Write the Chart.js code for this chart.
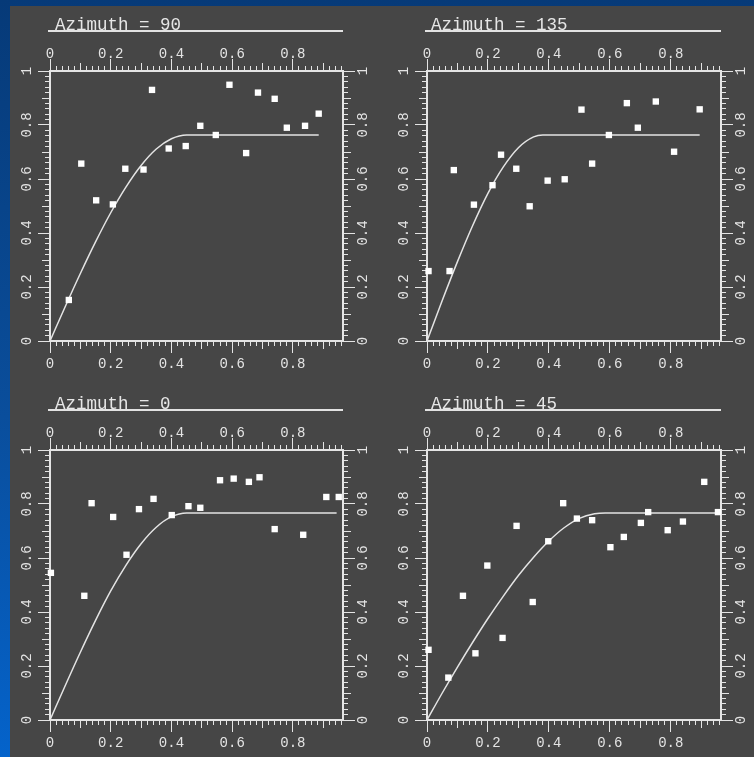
<!DOCTYPE html>
<html>
<head>
<meta charset="utf-8">
<script src="https://cdn.jsdelivr.net/npm/chart.js@4.4.1/dist/chart.umd.min.js"></script>
<style>
  html, body { margin: 0; padding: 0; }
  body {
    width: 754px; height: 757px; overflow: hidden; position: relative;
    background: linear-gradient(180deg, #063a78 0%, #0a4e9c 55%, #0463cb 100%);
  }
  #sheet { position: absolute; left: 10px; top: 6px; right: 0; bottom: 0; background: #464646; }
  canvas { position: absolute; }
  .title {
    position: absolute; box-sizing: border-box; height: 14px;
    font-family: "Liberation Mono", "DejaVu Sans Mono", monospace; font-size: 17.5px;
    line-height: 14px; color: #e6e6e6; white-space: pre;
    border-bottom: 2px solid #e2e2e2; z-index: 2;
  }
</style>
</head>
<body>
<div id="sheet"></div>
<script>
// Experimental variogram values and fitted model, one set per azimuth.
const lagMax = 0.965;
const xTickLabels = ['0', '0.2', '0.4', '0.6', '0.8'];
const yTickLabels = ['0', '0.2', '0.4', '0.6', '0.8', '1'];

const az90Lag   = [0.062, 0.103, 0.152, 0.207, 0.248, 0.308, 0.336, 0.391, 0.447, 0.495, 0.546, 0.591, 0.646, 0.685, 0.740, 0.780, 0.840, 0.885];
const az90Gamma = [0.152, 0.657, 0.521, 0.506, 0.638, 0.635, 0.930, 0.713, 0.722, 0.797, 0.763, 0.949, 0.696, 0.920, 0.897, 0.790, 0.797, 0.842];
const az90ModelLag   = [0, 0.05, 0.10, 0.15, 0.20, 0.25, 0.30, 0.35, 0.40, 0.45, 0.885];
const az90ModelGamma = [0, 0.127, 0.250, 0.367, 0.475, 0.570, 0.650, 0.711, 0.749, 0.763, 0.763];

const az135Lag   = [0.005, 0.074, 0.088, 0.154, 0.215, 0.243, 0.293, 0.337, 0.396, 0.452, 0.507, 0.542, 0.597, 0.656, 0.692, 0.751, 0.811, 0.895];
const az135Gamma = [0.259, 0.259, 0.633, 0.505, 0.577, 0.690, 0.638, 0.499, 0.594, 0.599, 0.857, 0.657, 0.763, 0.881, 0.790, 0.887, 0.701, 0.858];
const az135ModelLag   = [0, 0.05, 0.10, 0.15, 0.20, 0.25, 0.30, 0.35, 0.38, 0.895];
const az135ModelGamma = [0, 0.150, 0.294, 0.428, 0.547, 0.644, 0.716, 0.756, 0.763, 0.763];

const az0Lag   = [0.003, 0.113, 0.137, 0.208, 0.252, 0.293, 0.341, 0.401, 0.456, 0.495, 0.560, 0.605, 0.655, 0.690, 0.740, 0.834, 0.910, 0.951];
const az0Gamma = [0.545, 0.460, 0.803, 0.752, 0.612, 0.781, 0.819, 0.759, 0.792, 0.786, 0.888, 0.894, 0.882, 0.899, 0.707, 0.686, 0.826, 0.826];
const az0ModelLag   = [0, 0.05, 0.10, 0.15, 0.20, 0.25, 0.30, 0.35, 0.40, 0.45, 0.944];
const az0ModelGamma = [0, 0.127, 0.251, 0.369, 0.478, 0.573, 0.653, 0.714, 0.753, 0.767, 0.767];

const az45Lag   = [0.005, 0.070, 0.118, 0.159, 0.198, 0.248, 0.294, 0.347, 0.398, 0.447, 0.492, 0.542, 0.602, 0.646, 0.702, 0.726, 0.790, 0.840, 0.910, 0.955];
const az45Gamma = [0.260, 0.157, 0.460, 0.247, 0.572, 0.304, 0.719, 0.437, 0.662, 0.803, 0.746, 0.740, 0.640, 0.678, 0.730, 0.770, 0.703, 0.735, 0.882, 0.770];
const az45ModelLag   = [0, 0.05, 0.10, 0.15, 0.20, 0.25, 0.30, 0.35, 0.40, 0.45, 0.50, 0.55, 0.585, 0.963];
const az45ModelGamma = [0, 0.100, 0.196, 0.288, 0.376, 0.458, 0.535, 0.603, 0.663, 0.712, 0.747, 0.764, 0.767, 0.767];

const panels = [
  { title: 'Azimuth = 90',  lag: az90Lag,  gamma: az90Gamma,  mLag: az90ModelLag,  mGamma: az90ModelGamma,  left: 0,   top: 0,   rightW: 34 },
  { title: 'Azimuth = 135', lag: az135Lag, gamma: az135Gamma, mLag: az135ModelLag, mGamma: az135ModelGamma, left: 377, top: 0,   rightW: 33 },
  { title: 'Azimuth = 0',   lag: az0Lag,   gamma: az0Gamma,   mLag: az0ModelLag,   mGamma: az0ModelGamma,   left: 0,   top: 379, rightW: 34 },
  { title: 'Azimuth = 45',  lag: az45Lag,  gamma: az45Gamma,  mLag: az45ModelLag,  mGamma: az45ModelGamma,  left: 377, top: 379, rightW: 33 }
];

const INK = '#e4e4e4';
const TICK_FONT = { family: '"Liberation Mono", "DejaVu Sans Mono", monospace', size: 14 };
const TICK_LEN = 12;
const PER_UNIT = 50;          // minor tick every 0.02

function tickValues(max) {
  const out = [];
  for (let i = 0; i / PER_UNIT <= max + 1e-9; i++) out.push({ value: i / PER_UNIT });
  return out;
}
// visible length beyond the frame: major / mid / minor
function tickReach(index) {
  return index % 10 === 0 ? 11 : (index % 5 === 0 ? 7 : 4);
}
function tickDash(pos) {
  return ctx => {
    const vis = tickReach(ctx.index);
    const run = TICK_LEN - 1;
    // top/left ticks are stroked from the outer end toward the frame
    return (pos === 'top' || pos === 'left') ? [0, run - vis, vis, 200] : [vis, 200];
  };
}

function axis(pos, max, labels, size, pad) {
  const horizontal = pos === 'top' || pos === 'bottom';
  return {
    type: 'linear', position: pos, min: 0, max: max,
    afterBuildTicks: s => { s.ticks = tickValues(max); },
    afterFit: s => { if (horizontal) s.height = size; else s.width = size; },
    border: { display: true, color: INK, width: 2 },
    grid: {
      drawOnChartArea: false, drawTicks: true, tickLength: TICK_LEN,
      lineWidth: 1, tickWidth: 1, tickColor: INK, tickBorderDash: tickDash(pos)
    },
    ticks: {
      autoSkip: false, maxTicksLimit: 200, color: INK, font: TICK_FONT, padding: pad,
      minRotation: horizontal ? 0 : 90, maxRotation: horizontal ? 0 : 90,
      crossAlign: horizontal ? 'near' : 'center',
      callback: (v, i) => (i % 10 === 0 ? labels[i / 10] : '')
    }
  };
}

panels.forEach(p => {
  const canvas = document.createElement('canvas');
  canvas.width = 377; canvas.height = 378;
  canvas.style.left = p.left + 'px';
  canvas.style.top = p.top + 'px';
  document.body.appendChild(canvas);

  const t = document.createElement('div');
  t.className = 'title';
  t.textContent = p.title;
  t.style.left = (p.left + 48) + 'px';
  t.style.top = (p.top + 18) + 'px';
  t.style.width = (377 - 50 - p.rightW + 2) + 'px';
  t.style.paddingLeft = (p.left ? 6 : 7) + 'px';
  document.body.appendChild(t);

  new Chart(canvas, {
    type: 'scatter',
    data: {
      datasets: [
        {
          data: p.lag.map((x, i) => ({ x: x, y: p.gamma[i] })),
          pointStyle: 'rect', pointRadius: 4.5, backgroundColor: '#ffffff',
          borderWidth: 0, clip: false, order: 0
        },
        {
          data: p.mLag.map((x, i) => ({ x: x, y: p.mGamma[i] })),
          showLine: true, borderColor: INK, borderWidth: 1.5, pointRadius: 0,
          cubicInterpolationMode: 'monotone', fill: false, order: 1
        }
      ]
    },
    options: {
      responsive: false, animation: false, events: [],
      layout: { padding: 0 },
      plugins: { legend: { display: false }, tooltip: { enabled: false } },
      scales: {
        x: axis('bottom', lagMax, xTickLabels, 37, 3),
        xTop: axis('top', lagMax, xTickLabels, 71, -4),
        y: axis('left', 1, yTickLabels, 50, -2),
        yRight: axis('right', 1, yTickLabels, p.rightW, -4)
      }
    }
  });
});
</script>
</body>
</html>
